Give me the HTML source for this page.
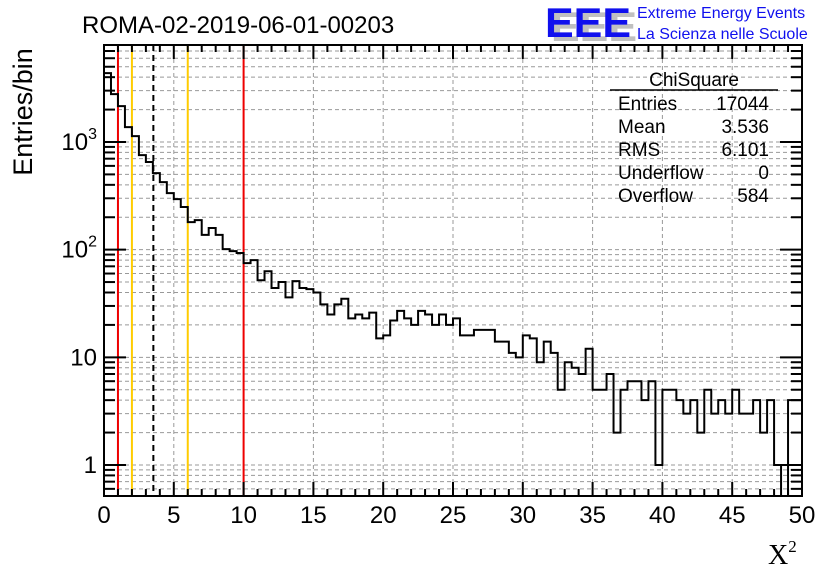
<!DOCTYPE html>
<html><head><meta charset="utf-8"><style>
body{margin:0;background:#fff;}
svg{display:block;font-family:"Liberation Sans",sans-serif;}
</style></head><body>
<svg id="c" width="836" height="572" xmlns="http://www.w3.org/2000/svg">
<rect width="836" height="572" fill="#fff"/>
<text x="82" y="33" font-size="24">ROMA-02-2019-06-01-00203</text>
<g font-weight="bold" font-size="42" font-family="Liberation Sans,sans-serif">
<text x="551" y="41" fill="#c0c0c0" textLength="86" lengthAdjust="spacingAndGlyphs">EEE</text>
<text x="545" y="37" fill="#1010ee" textLength="86" lengthAdjust="spacingAndGlyphs">EEE</text>
</g>
<text x="637" y="18" font-size="16" fill="#1010ee">Extreme Energy Events</text>
<text x="637" y="39" font-size="16" fill="#1010ee">La Scienza nelle Scuole</text>
<g id="grid"></g>
<g id="lines"></g>
<g id="hist"></g>
<g id="axes"></g>
<g font-size="19">
<text x="694" y="86" text-anchor="middle">ChiSquare</text>
<line x1="610" y1="90" x2="778" y2="90" stroke="#000" stroke-width="1.5"/>
<text x="618" y="110">Entries</text><text x="769" y="110" text-anchor="end">17044</text>
<text x="618" y="133">Mean</text><text x="769" y="133" text-anchor="end">3.536</text>
<text x="618" y="156">RMS</text><text x="769" y="156" text-anchor="end">6.101</text>
<text x="618" y="179">Underflow</text><text x="769" y="179" text-anchor="end">0</text>
<text x="618" y="202">Overflow</text><text x="769" y="202" text-anchor="end">584</text>
</g>
<text transform="translate(32,112) rotate(-90)" text-anchor="middle" font-size="27">Entries/bin</text>
<text x="768" y="564" font-size="28" font-family="Liberation Serif,serif">X<tspan font-size="17" dy="-12">2</tspan></text>
</svg>
<script>
const counts=[4365,2785,2154,1375,1135,755,651,514,424,335,295,249,180,188,137,159,137,101,97,93,75,80,52,63,44,50,36,51,44,43,40,31,25,31,35,23,25,23,26,15,16,22,27,23,20,27,25,20,25,20,23,16,16,18,18,18,14,14,11,10,16,15,9,14,11,5,9,8,7,12,5,5,7,2,5,6,6,4,6,1,5,5,4,3,4,2,5,3,4,3,5,3,3,4,2,4,1,0,4,4];
const binWidth=0.5;
const xTicks=[0,5,10,15,20,25,30,35,40,45,50];
const yTickLabels=["1","10","10^2","10^3"];
const yTickValues=[1,10,100,1000];
const markerRed=[1,10];
const markerYellow=[2,6];
const meanValue=3.536;
const NS="http://www.w3.org/2000/svg";
const L=104,R=802,T=45,B=496,xmin=0,xmax=50,ymin=0.515,ymax=7960;
const X=v=>L+(v-xmin)/(xmax-xmin)*(R-L);
const Y=v=>{if(v<=ymin)return B;return B-(Math.log10(v)-Math.log10(ymin))/(Math.log10(ymax)-Math.log10(ymin))*(B-T);};
function mk(tag,attrs,parent){const e=document.createElementNS(NS,tag);for(const k in attrs)e.setAttribute(k,attrs[k]);parent.appendChild(e);return e;}
const grid=document.getElementById('grid'),lines=document.getElementById('lines'),hist=document.getElementById('hist'),axes=document.getElementById('axes');
xTicks.forEach(t=>{if(t>xmin&&t<xmax){const g=mk('line',{x1:X(t),x2:X(t),y1:T,y2:B,stroke:'#999','stroke-dasharray':'4,3','stroke-width':1},grid);

}});
for(let d=-1;d<4;d++)for(let m=1;m<10;m++){const v=m*Math.pow(10,d);if(v<ymin||v>ymax)continue;const g=mk('line',{x1:L,x2:R,y1:Y(v),y2:Y(v),stroke:'#999','stroke-dasharray':'4,3','stroke-width':1},grid);

}
markerRed.forEach(v=>{const l=mk('line',{x1:X(v),x2:X(v),y1:T,y2:B,stroke:'#ee0000','stroke-width':2},lines);

});
markerYellow.forEach(v=>{const l=mk('line',{x1:X(v),x2:X(v),y1:T,y2:B,stroke:'#ffcc00','stroke-width':2},lines);

});
const ml=mk('line',{x1:X(meanValue),x2:X(meanValue),y1:T,y2:B,stroke:'#000','stroke-width':2,'stroke-dasharray':'6,4'},lines);


let d='';
counts.forEach((c,i)=>{const x0=X(i*binWidth),x1=X((i+1)*binWidth),y=Y(c);d+=(i===0?'M'+x0+','+y:'L'+x0+','+y)+'L'+x1+','+y;});
const hp=mk('path',{d:d,fill:'none',stroke:'#000','stroke-width':2},hist);


const fr=mk('rect',{x:L,y:T,width:R-L,height:B-T,fill:'none',stroke:'#000','stroke-width':2},axes);


for(let t=xmin;t<=xmax;t+=1){const major=t%5===0;const len=major?14:7;
mk('line',{x1:X(t),x2:X(t),y1:B,y2:B-len,stroke:'#000','stroke-width':2},axes);
mk('line',{x1:X(t),x2:X(t),y1:T,y2:T+len,stroke:'#000','stroke-width':2},axes);}
xTicks.forEach(t=>{const tx=mk('text',{x:X(t),y:B+27,'text-anchor':'middle','font-size':24},axes);tx.textContent=t;

});
for(let dd=-1;dd<4;dd++)for(let m=1;m<10;m++){const v=m*Math.pow(10,dd);if(v<ymin||v>ymax)continue;const len=m===1?22:11;
mk('line',{x1:L,x2:L+len,y1:Y(v),y2:Y(v),stroke:'#000','stroke-width':2},axes);
mk('line',{x1:R,x2:R-len,y1:Y(v),y2:Y(v),stroke:'#000','stroke-width':2},axes);}
yTickValues.forEach((v,i)=>{const s=yTickLabels[i];const tx=mk('text',{x:L-7,y:Y(v)+8,'text-anchor':'end','font-size':24},axes);
if(s.indexOf('^')>0){const p=s.split('^');tx.textContent=p[0];const sp=mk('tspan',{'font-size':16,dy:-11},tx);sp.textContent=p[1];}else tx.textContent=s;

});
</script>
</body></html>
